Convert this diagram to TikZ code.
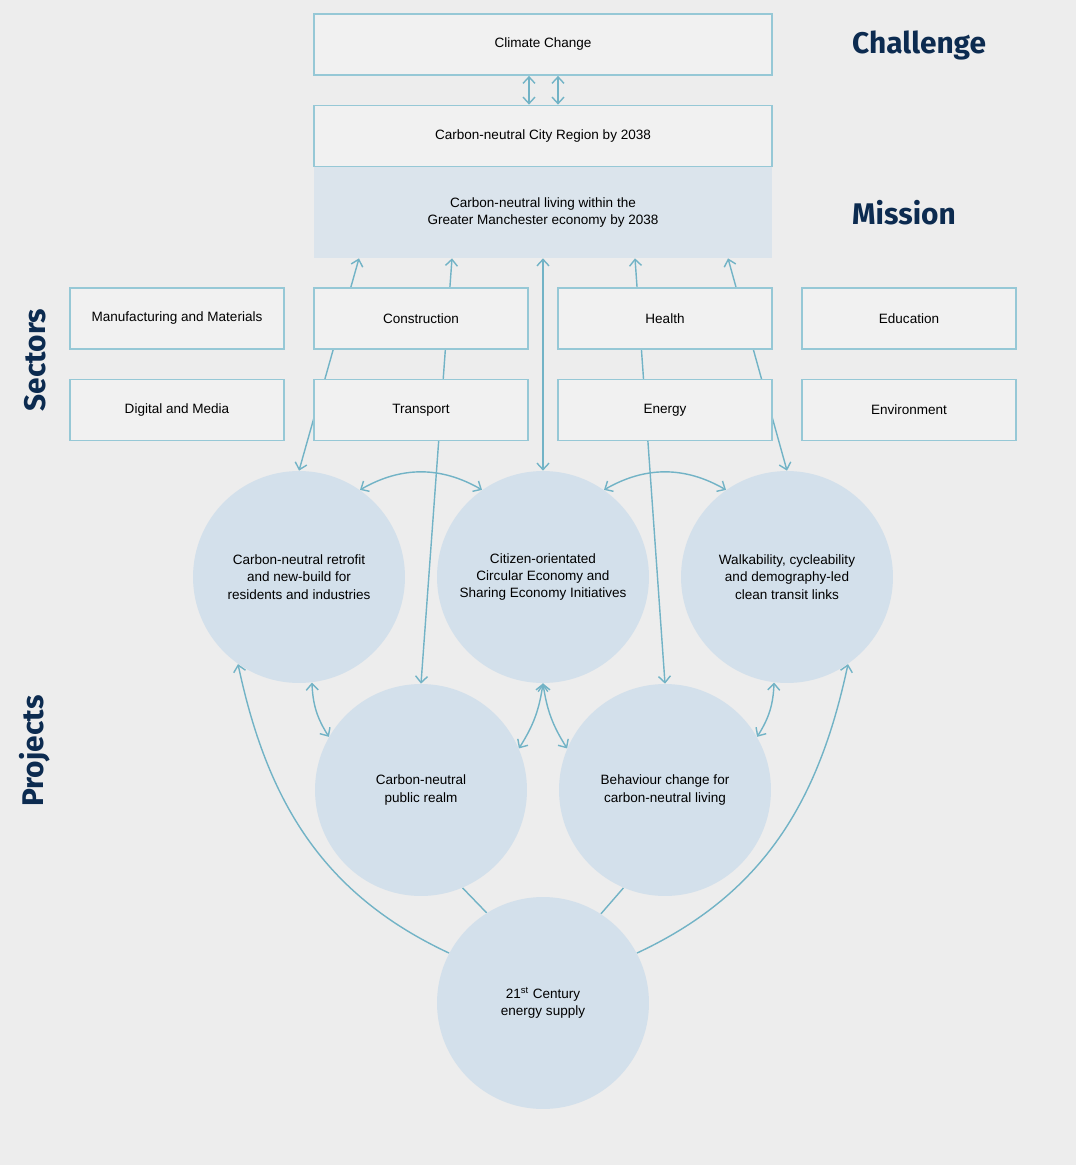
\documentclass[tikz,border=0pt]{standalone}
\usepackage{fontspec}
\setmainfont{Liberation Sans}
\newfontfamily\headfont{Fira Sans}
\usetikzlibrary{arrows.meta,calc}
\definecolor{paper}{HTML}{EDEDED}
\definecolor{boxfill}{HTML}{F1F1F1}
\definecolor{rim}{HTML}{96C8D6}
\definecolor{wire}{HTML}{72B3C6}
\definecolor{bubble}{HTML}{D3E0EB}
\definecolor{missionfill}{HTML}{DBE4EC}
\definecolor{navy}{HTML}{0C2B50}
\pgfdeclarelayer{canvas}
\pgfdeclarelayer{links}
\pgfsetlayers{canvas,links,main}
\begin{document}
\begin{tikzpicture}[x=0.02cm,y=0.02cm,
    small/.style={font=\fontsize{7.7}{9.9}\selectfont},
    sector/.style={rectangle,draw=rim,fill=boxfill,line width=1pt,small,
        minimum width=4.28cm,minimum height=1.22cm},
    wide/.style={sector,minimum width=9.16cm},
    project/.style={circle,fill=bubble,minimum size=4.24cm,inner sep=0pt,
        align=center,small},
    heading/.style={font=\headfont\bfseries\fontsize{17}{20}\selectfont,text=navy},
    conn/.style={draw=wire,line width=0.8pt},
    oneway/.style={conn,-{Straight Barb[length=1.3mm,width=2.4mm]}},
    twoway/.style={conn,{Straight Barb[length=1.3mm,width=2.4mm]}-{Straight Barb[length=1.3mm,width=2.4mm]}},
	]

    % Page
    \begin{pgfonlayer}{canvas}
        \fill[paper] (0,0) rectangle (1076,-1165);
    \end{pgfonlayer}
    \useasboundingbox (0,0) rectangle (1076,-1165);

    %% Challenge and mission
    \node[fill=missionfill,minimum width=9.16cm,minimum height=1.82cm,align=center,
        font=\fontsize{7.7}{10.2}\selectfont] (mission) at (543,-212.5)
        {Carbon-neutral living within the\\Greater Manchester economy by 2038};
    \node[wide] (climate) at (543,-44.5) {Climate Change};
    \node[wide] (city) at (543,-136) {Carbon-neutral City Region by 2038};

    \node[heading,anchor=west] (challengetitle) at (846,-45) {Challenge};
    \node[heading,anchor=west] (missiontitle) at (846,-213) {Mission};
    \node[heading,rotate=90] (sectorstitle) at (35,-360) {Sectors};
    \node[heading,rotate=90] (projectstitle) at (35,-751) {Projects};

    %% Sectors
    \node[sector] (manufacturing) at (177,-318.5) {Manufacturing and Materials};
    \node[sector] (construction) at (421,-318.5) {Construction};
    \node[sector] (health) at (665,-318.5) {Health};
    \node[sector] (education) at (909,-318.5) {Education};
    \node[sector] (digital) at (177,-410) {Digital and Media};
    \node[sector] (transport) at (421,-410) {Transport};
    \node[sector] (energy) at (665,-410) {Energy};
    \node[sector] (environment) at (909,-410) {Environment};

    %% Projects
    \node[project] (retrofit) at (299,-577)
        {Carbon-neutral retrofit\\and new-build for\\residents and industries};
    \node[project] (sharing) at (543,-577)
        {Citizen-orientated\\Circular Economy and\\Sharing Economy Initiatives};
    \node[project] (transit) at (787,-577)
        {Walkability, cycleability\\and demography-led\\clean transit links};
    \node[project] (realm) at (421,-790) {Carbon-neutral\\public realm};
    \node[project] (behaviour) at (665,-790)
        {Behaviour change for\\carbon-neutral living};
    \node[project] (supply) at (543,-1003)
        {21\textsuperscript{st} Century\\energy supply};

    % Connectors, kept behind the boxes
    \begin{pgfonlayer}{links}
        \draw[twoway] ($(climate.south)+(-14,0)$) -- ($(city.north)+(-14,0)$);
        \draw[twoway] ($(climate.south)+(15,0)$) -- ($(city.north)+(15,0)$);

        \draw[twoway] ($(mission.south)+(-184,0)$) -- (retrofit.north);
        \draw[twoway] ($(mission.south)+(-91,0)$) -- (realm.north);
        \draw[twoway] (mission.south) -- (sharing.north);
        \draw[twoway] ($(mission.south)+(92,0)$) -- (behaviour.north);
        \draw[twoway] ($(mission.south)+(185,0)$) -- (transit.north);

        \draw[twoway] (retrofit.55) to[bend left=30] (sharing.125);
        \draw[twoway] (sharing.55) to[bend left=30] (transit.125);
        \draw[twoway] (retrofit.277) to[bend right=15] (realm.150);
        \draw[twoway] (sharing.south) to[bend left=12] (realm.23);
        \draw[twoway] (sharing.south) to[bend right=12] (behaviour.157);
        \draw[twoway] (transit.263) to[bend left=15] (behaviour.30);

        \draw[oneway] (supply.152) to[out=155,in=-78] (retrofit.235);
        \draw[oneway] (supply.28) to[out=25,in=258] (transit.305);
        \draw[conn] (realm.293) -- (supply.122);
        \draw[conn] (behaviour.247) -- (supply.57);
    \end{pgfonlayer}
\end{tikzpicture}
\end{document}
